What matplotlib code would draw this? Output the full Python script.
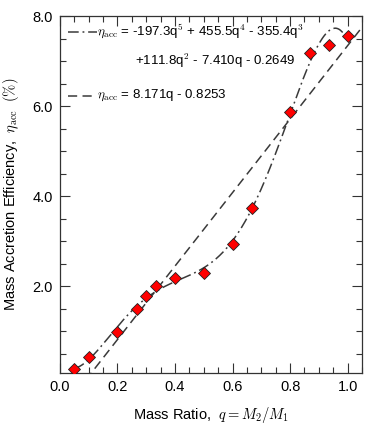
import numpy as np
import matplotlib
matplotlib.use("Agg")
import matplotlib.pyplot as plt
from matplotlib.ticker import MultipleLocator, FixedLocator

plt.rcParams['font.family'] = ['Liberation Sans', 'DejaVu Sans']
plt.rcParams['mathtext.fontset'] = 'cm'

# data
q = [0.05, 0.10, 0.20, 0.267, 0.30, 0.333, 0.40, 0.50, 0.60, 0.667, 0.80, 0.87, 0.935, 1.00]
eta = [0.16, 0.42, 0.98, 1.49, 1.78, 2.00, 2.17, 2.30, 2.93, 3.73, 5.88, 7.19, 7.37, 7.56]
lin_coef = [8.171, -0.8253]

x_ticks = [0.0, 0.2, 0.4, 0.6, 0.8, 1.0]
x_ticklabels = ["0.0", "0.2", "0.4", "0.6", "0.8", "1.0"]
y_ticks = [2.0, 4.0, 6.0, 8.0]
y_ticklabels = ["2.0", "4.0", "6.0", "8.0"]

fig = plt.figure(figsize=(3.74, 4.26), dpi=100)
ax = fig.add_axes([0.160, 0.1244, 0.808, 0.8376])

lc = '#3a3a3a'
dashdot = [7, 2.5, 1.2, 2.5]
dash = [6, 3.5]
# polynomial fit curve (5th order) to data
pc = np.polyfit(q, eta, 5)
qq = np.linspace(q[0], q[-1], 300)
ax.plot(qq, np.polyval(pc, qq), color=lc, lw=1.1, dashes=dashdot)
# linear fit
ql = np.linspace(0.09, 1.05, 100)
ax.plot(ql, np.polyval(lin_coef, ql), color=lc, lw=1.1, dashes=dash)

ax.plot(q, eta, ls='none', marker='D', ms=6.5, mfc='#ff0000', mec='#202020', mew=0.6, zorder=5)

ax.set_xlim(0, 1.05)
ax.set_ylim(0.067, 8.0)
ax.xaxis.set_major_locator(FixedLocator(x_ticks))
ax.set_xticklabels(x_ticklabels)
ax.xaxis.set_minor_locator(MultipleLocator(0.05))
ax.yaxis.set_major_locator(FixedLocator(y_ticks))
ax.set_yticklabels(y_ticklabels)
ax.yaxis.set_minor_locator(MultipleLocator(0.5))
ax.tick_params(which='both', direction='in', top=True, right=True, labelsize=10.5, width=0.8, color='#333333')
ax.tick_params(which='major', length=7, pad=5)
ax.tick_params(which='minor', length=4)
for s in ax.spines.values():
    s.set_linewidth(0.9)
    s.set_color('#333333')

ax.set_xlabel(r"Mass Ratio,  $q = M_2/M_1$", fontsize=10.5, labelpad=8)
ax.set_ylabel(r"Mass Accretion Efficiency,  $\eta_{\rm acc}$  $(\%)$", fontsize=10.5, labelpad=8)

# legend drawn manually
tr = ax.transAxes
def ax_x(px):
    return (px - 60) / 302.0
def ax_y(py):
    return 1 - (py - 16) / 357.0
ax.plot([ax_x(68), ax_x(97)], [ax_y(32)] * 2, transform=tr, color=lc, lw=1.1, dashes=dashdot, clip_on=False)
ax.text(ax_x(97), ax_y(31), r"$\eta_{\rm acc}$ = -197.3q$^{5}$ + 455.5q$^{4}$ - 355.4q$^{3}$",
        transform=tr, fontsize=9.5, va='center', ha='left')
ax.text(ax_x(135), ax_y(61), r"+111.8q$^{2}$ - 7.410q - 0.2649",
        transform=tr, fontsize=9.5, va='center', ha='left')
ax.plot([ax_x(68), ax_x(97)], [ax_y(96)] * 2, transform=tr, color=lc, lw=1.1, dashes=dash, clip_on=False)
ax.text(ax_x(97), ax_y(95), r"$\eta_{\rm acc}$ = 8.171q - 0.8253",
        transform=tr, fontsize=9.5, va='center', ha='left')

fig.savefig("out.png", dpi=100)
